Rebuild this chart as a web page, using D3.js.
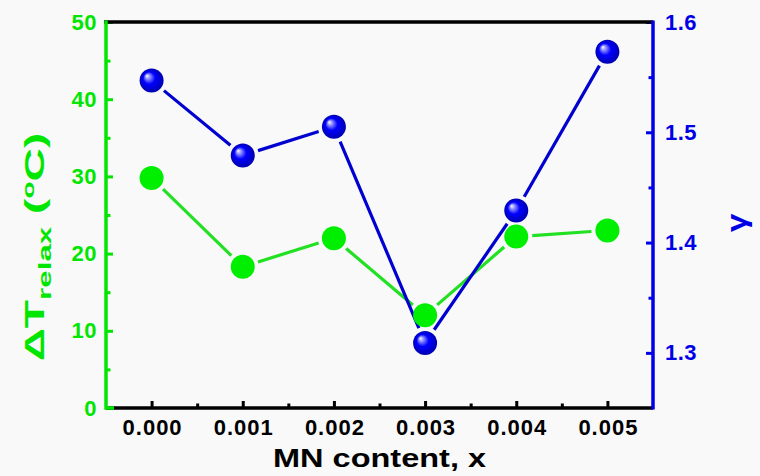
<!DOCTYPE html>
<html><head><meta charset="utf-8">
<script src="https://cdn.jsdelivr.net/npm/d3@7"></script>
<style>
html,body{margin:0;padding:0;background:#f9f9f9;}
svg{display:block;}
text{font-family:"Liberation Sans",Arial,sans-serif;font-weight:bold;}
</style></head>
<body><svg id="c" width="760" height="476"></svg>
<script>
const xValues = [0.000, 0.001, 0.002, 0.003, 0.004, 0.005];
const dTrelax = [29.8, 18.3, 22.0, 12.0, 22.2, 23.0];
const gammaValues = [1.547, 1.479, 1.505, 1.309, 1.429, 1.573];
const xTicks = [0.000, 0.001, 0.002, 0.003, 0.004, 0.005];
const xMinorTicks = [0.0005, 0.0015, 0.0025, 0.0035, 0.0045];
const leftTicks = [0, 10, 20, 30, 40, 50];
const leftMinorTicks = [5, 15, 25, 35, 45];
const rightTicks = [1.3, 1.4, 1.5, 1.6];
const rightMinorTicks = [1.35, 1.45, 1.55];

const L = 106, R = 653, T = 22, B = 408;
const GREEN = "#00e600", BLUE = "#0000e6";
const svg = d3.select("#c");
svg.append("rect").attr("width",760).attr("height",476).attr("fill","#f9f9f9");

const x = d3.scaleLinear().domain([-0.0005, 0.0055]).range([L, R]);
const yL = d3.scaleLinear().domain([0, 50]).range([B, T]);
const yR = d3.scaleLinear().domain([1.25, 1.6]).range([B, T]);

const defs = svg.append("defs");
const g = defs.append("radialGradient").attr("id","sph").attr("cx","50%").attr("cy","50%").attr("r","50%").attr("fx","30%").attr("fy","30%");
g.append("stop").attr("offset","0%").attr("stop-color","#ffffff");
g.append("stop").attr("offset","18%").attr("stop-color","#9a9aff");
g.append("stop").attr("offset","50%").attr("stop-color","#0000ff");
g.append("stop").attr("offset","100%").attr("stop-color","#0000b0");

function styleAxis(sel, color, fs, ls){
  sel.select(".domain").remove();
  sel.selectAll("line").attr("stroke",color).attr("stroke-width",3);
  sel.selectAll("text").attr("fill",color).attr("font-size",fs).attr("letter-spacing",ls||0);
}
// bottom
const gb = svg.append("g").attr("transform",`translate(0,${B})`)
  .call(d3.axisBottom(x).tickValues(xTicks).tickSize(-7).tickPadding(11).tickFormat(d3.format(".3f")));
styleAxis(gb,"#000",22,1);
gb.selectAll("text").attr("dx",0.5);
const gbm = svg.append("g").attr("transform",`translate(0,${B})`)
  .call(d3.axisBottom(x).tickValues(xMinorTicks).tickSize(-4.5).tickFormat(""));
styleAxis(gbm,"#000",22);
// left
const gl = svg.append("g").attr("transform",`translate(${L},0)`)
  .call(d3.axisLeft(yL).tickValues(leftTicks).tickSize(-7).tickPadding(9));
styleAxis(gl,GREEN,22,0.5);
const glm = svg.append("g").attr("transform",`translate(${L},0)`)
  .call(d3.axisLeft(yL).tickValues(leftMinorTicks).tickSize(-4.5).tickFormat(""));
styleAxis(glm,GREEN,22);
// right
const gr = svg.append("g").attr("transform",`translate(${R},0)`)
  .call(d3.axisRight(yR).tickValues(rightTicks).tickSize(-7).tickPadding(12).tickFormat(d3.format(".1f")));
styleAxis(gr,BLUE,22,0.5);
const grm = svg.append("g").attr("transform",`translate(${R},0)`)
  .call(d3.axisRight(yR).tickValues(rightMinorTicks).tickSize(-4.5).tickFormat(""));
styleAxis(grm,BLUE,22);

// frame lines
svg.append("line").attr("x1",L-2).attr("x2",R).attr("y1",T).attr("y2",T).attr("stroke","#000").attr("stroke-width",3.5);
svg.append("line").attr("x1",L).attr("x2",R).attr("y1",B).attr("y2",B).attr("stroke","#000").attr("stroke-width",3.5);
svg.append("path").attr("d",`M${L},${T-1.5}V${B}H${L+8}`).attr("fill","none").attr("stroke",GREEN).attr("stroke-width",3.5);
svg.append("path").attr("d",`M${R},${T-1.5}V${B+1.5}`).attr("fill","none").attr("stroke",BLUE).attr("stroke-width",3.5);

// series lines with gaps near markers
const r = 12, gap = 4;
function gappedSegments(xs, ys, ysc, color){
  for(let i=0;i<xs.length-1;i++){
    const x1=x(xs[i]), y1=ysc(ys[i]), x2=x(xs[i+1]), y2=ysc(ys[i+1]);
    const dx=x2-x1, dy=y2-y1, len=Math.hypot(dx,dy), s=(r+gap)/len;
    svg.append("line").attr("x1",x1+dx*s).attr("y1",y1+dy*s).attr("x2",x2-dx*s).attr("y2",y2-dy*s)
      .attr("stroke",color).attr("stroke-width",3.2);
  }
}
gappedSegments(xValues, dTrelax, yL, "#22e022");
gappedSegments(xValues, gammaValues, yR, "#0000d0");

svg.append("g").selectAll("circle").data(xValues).join("circle")
  .attr("cx",d=>x(d)).attr("cy",(d,i)=>yL(dTrelax[i])).attr("r",r).attr("fill","#00ee00");
svg.append("g").selectAll("circle").data(xValues).join("circle")
  .attr("cx",d=>x(d)).attr("cy",(d,i)=>yR(gammaValues[i])).attr("r",r).attr("fill","url(#sph)");

// titles
svg.append("text").attr("transform",`translate(${(L+R)/2},467) scale(1.25,1)`).attr("text-anchor","middle")
  .attr("font-size",26).attr("fill","#000").text("MN content, x");

const lt = svg.append("text").attr("transform","translate(44,247) rotate(-90) scale(1.65,1)").attr("text-anchor","middle")
  .attr("fill",GREEN).attr("font-size",28);
lt.append("tspan").text("\u0394T");
lt.append("tspan").attr("font-size",19).attr("dy",7).text("relax");
lt.append("tspan").attr("dy",-7).text(" (");
lt.append("tspan").attr("font-size",17).attr("dy",-10).text("o");
lt.append("tspan").attr("dy",10).text("C)");

svg.append("text").attr("transform","translate(746,223) rotate(-90) scale(1.2,1)").attr("text-anchor","middle")
  .attr("fill",BLUE).attr("font-size",28).attr("font-weight","normal").attr("font-family","DejaVu Serif, serif").text("\u03B3");
</script></body></html>
